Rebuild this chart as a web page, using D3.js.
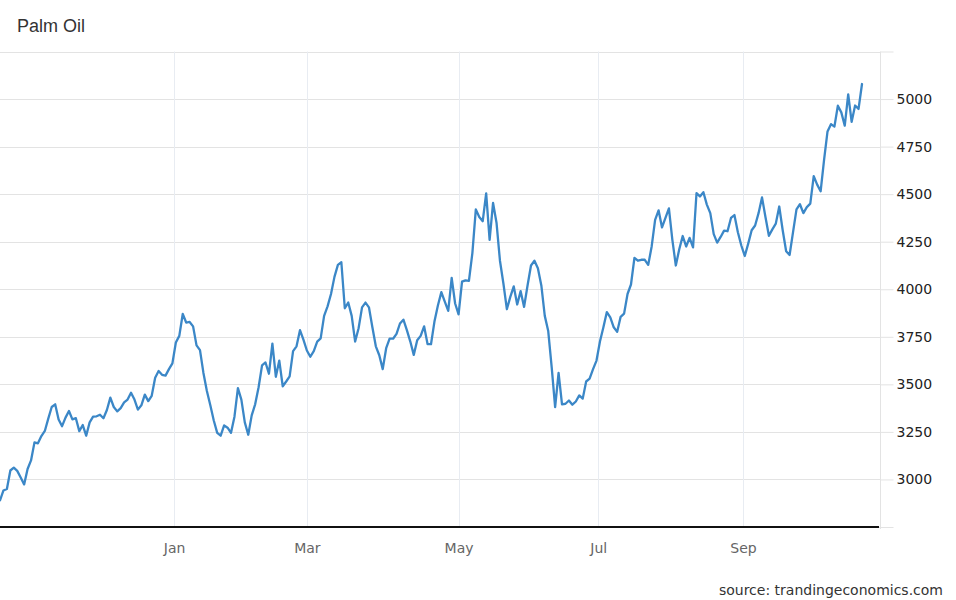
<!DOCTYPE html>
<html>
<head>
<meta charset="utf-8">
<script src="https://cdn.jsdelivr.net/npm/d3@7"></script>
<style>
  html, body { margin: 0; padding: 0; background: #fff; }
  svg { display: block; }
</style>
</head>
<body>
<svg id="chart" width="956" height="600"></svg>
<script>
// ---- data (trading-day series) ----
const title = "Palm Oil";
const sourceText = "source: trandingeconomics.com";

const values = [
  2890, 2942, 2950, 3047, 3062, 3045, 3010, 2974, 3055, 3100,
  3195, 3190, 3228, 3255, 3320, 3381, 3395, 3315, 3280, 3325,
  3360, 3316, 3322, 3254, 3286, 3230, 3300, 3330, 3332, 3340,
  3322, 3365, 3430, 3381, 3358, 3375, 3405, 3420, 3456, 3420,
  3367, 3390, 3446, 3412, 3440, 3535, 3570, 3550, 3546, 3580,
  3610, 3720, 3755, 3870, 3825, 3828, 3805, 3705, 3680, 3560,
  3465, 3390, 3310, 3245, 3230, 3284, 3272, 3245, 3330, 3480,
  3420, 3300, 3235, 3337, 3395, 3485, 3600, 3615, 3556, 3714,
  3540, 3625, 3490, 3515, 3542, 3675, 3700, 3785, 3735, 3678,
  3645, 3675, 3725, 3742, 3860, 3910, 3975, 4065, 4128, 4142,
  3900, 3930, 3860, 3725, 3795, 3905, 3930, 3905, 3800, 3700,
  3653, 3580, 3690, 3740, 3740, 3765, 3820, 3840, 3785, 3725,
  3655, 3732, 3755, 3805, 3712, 3711, 3830, 3915, 3985, 3935,
  3886, 4060, 3925, 3868, 4040, 4047, 4044, 4190, 4420, 4380,
  4358, 4504, 4260, 4454, 4350, 4150, 4030, 3895, 3960, 4015,
  3920, 3990, 3907, 4020, 4125, 4150, 4110, 4020, 3860, 3780,
  3590, 3380, 3560, 3395, 3398, 3415, 3393, 3410, 3442, 3425,
  3515, 3530, 3580, 3625, 3725, 3800, 3880, 3852, 3800, 3776,
  3855, 3872, 3975, 4025, 4165, 4150, 4155, 4155, 4128, 4225,
  4365, 4415, 4325, 4375, 4425, 4260, 4125, 4210, 4280, 4225,
  4270, 4220, 4505, 4488, 4510, 4445, 4400, 4290, 4245, 4275,
  4308, 4305, 4375, 4390, 4300, 4230, 4175, 4240, 4310, 4335,
  4400, 4483, 4380, 4281, 4315, 4345, 4435, 4310, 4200, 4180,
  4300, 4420, 4447, 4400, 4432, 4450, 4595, 4550, 4515, 4680,
  4830, 4868, 4855, 4965, 4930, 4860, 5024, 4880, 4966, 4948,
  5079
];

// month boundaries on the trading-day index
const monthLabels = ["Jan", "Mar", "May", "Jul", "Sep"];
const monthTickIndex = [50.5, 89, 133, 173.5, 215.5];

// value axis
const yTickValues = [2750, 3000, 3250, 3500, 3750, 4000, 4250, 4500, 4750, 5000, 5250];
const yLabelValues = [3000, 3250, 3500, 3750, 4000, 4250, 4500, 4750, 5000];

// ---- layout ----
const plotLeft = 0, plotRight = 880, plotTop = 51.5, plotBottom = 527;
const lineRight = 862;

const svg = d3.select("#chart");

const x = d3.scaleLinear().domain([0, values.length - 1]).range([plotLeft, lineRight]);
const y = d3.scaleLinear().domain([2750, 5250]).range([plotBottom, plotTop]);

// horizontal gridlines
svg.append("g")
  .selectAll("line")
  .data(yTickValues)
  .join("line")
  .attr("x1", plotLeft).attr("x2", plotRight)
  .attr("y1", d => Math.round(y(d)) + 0.5).attr("y2", d => Math.round(y(d)) + 0.5)
  .attr("stroke", "#e3e3e3").attr("stroke-width", 1);

// vertical gridlines at month starts
svg.append("g")
  .selectAll("line")
  .data(monthTickIndex)
  .join("line")
  .attr("x1", d => Math.round(x(d)) + 0.5).attr("x2", d => Math.round(x(d)) + 0.5)
  .attr("y1", y(5250)).attr("y2", plotBottom)
  .attr("stroke", "#e8ecf2").attr("stroke-width", 1);

// right value axis
const yAxis = d3.axisRight(y)
  .tickValues(yTickValues)
  .tickSize(13)
  .tickPadding(3)
  .tickFormat(d => yLabelValues.includes(d) ? String(d) : "");

const gy = svg.append("g")
  .attr("transform", `translate(${plotRight + 0.5},0)`)
  .call(yAxis);
gy.select(".domain").attr("stroke", "#e3e3e3").attr("d", `M0,${y(5250)}V${plotBottom + 2}`);
gy.selectAll(".tick line").attr("stroke", "#e3e3e3");
gy.selectAll(".tick text")
  .attr("fill", "#222")
  .style("font-family", "'DejaVu Sans', Verdana, sans-serif")
  .style("font-size", "14px");

// bottom time axis (labels only)
const xAxis = d3.axisBottom(x)
  .tickValues(monthTickIndex)
  .tickSize(0)
  .tickPadding(16)
  .tickFormat((d, i) => monthLabels[i]);

const gx = svg.append("g")
  .attr("transform", `translate(0,${plotBottom})`)
  .call(xAxis);
gx.select(".domain").remove();
gx.selectAll(".tick text")
  .attr("fill", "#666")
  .style("font-family", "'DejaVu Sans', Verdana, sans-serif")
  .style("font-size", "14px");

// baseline
svg.append("line")
  .attr("x1", plotLeft).attr("x2", plotRight - 1)
  .attr("y1", plotBottom).attr("y2", plotBottom)
  .attr("stroke", "#111").attr("stroke-width", 2);

// price line
const line = d3.line()
  .x((d, i) => x(i))
  .y(d => y(d));

svg.append("path")
  .datum(values)
  .attr("fill", "none")
  .attr("stroke", "#3b87c7")
  .attr("stroke-width", 2.3)
  .attr("stroke-linejoin", "round")
  .attr("stroke-linecap", "round")
  .attr("d", line);

// title
svg.append("text")
  .attr("x", 17).attr("y", 32)
  .attr("fill", "#333")
  .style("font-family", "'Liberation Sans', Arial, sans-serif")
  .style("font-size", "18px")
  .text(title);

// source
svg.append("text")
  .attr("x", 943).attr("y", 595)
  .attr("text-anchor", "end")
  .attr("fill", "#333")
  .style("font-family", "'DejaVu Sans', Verdana, sans-serif")
  .style("font-size", "14px")
  .text(sourceText);
</script>
</body>
</html>
